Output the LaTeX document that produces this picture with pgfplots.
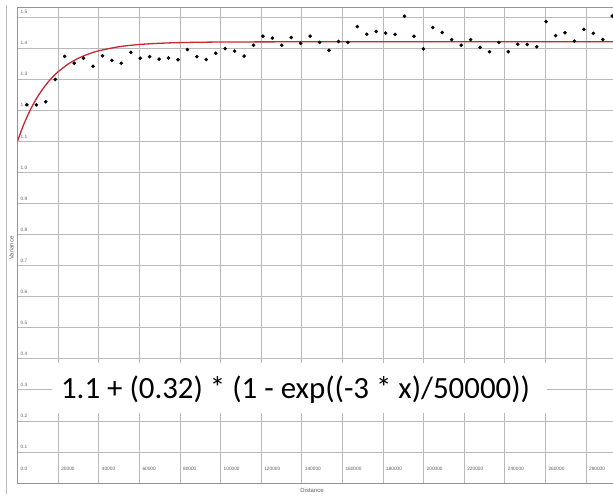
\documentclass[border=0pt]{standalone}
\usepackage{pgfplots}
\pgfplotsset{compat=1.18}
\usepackage{fontspec}
\setmainfont{Liberation Sans}
\newfontfamily\calibri{Carlito}
\definecolor{gridgray}{RGB}{185,185,185}
\definecolor{labgray}{RGB}{95,95,95}
\definecolor{fitred}{RGB}{200,40,50}

\begin{document}
\begin{tikzpicture}
\path[use as bounding box] (0,0) rectangle (613bp,496bp);
\draw[gridgray, line width=0.8bp] (6.5bp,2bp) -- (6.5bp,491bp);
\begin{axis}[
    at={(17.5bp,13bp)}, anchor=south west,
    scale only axis,
    width=595.5bp, height=476bp,
    xmin=0, xmax=293350,
    ymin=0, ymax=1.532,
    xtick={0,20000,40000,60000,80000,100000,120000,140000,160000,180000,200000,220000,240000,260000,280000},
    xticklabels={0.0,20000,40000,60000,80000,100000,120000,140000,160000,180000,200000,220000,240000,260000,280000},
    ytick={0.1,0.2,0.3,0.4,0.5,0.6,0.7,0.8,0.9,1.0,1.1,1.2,1.3,1.4,1.5},
    yticklabels={0.1,0.2,0.3,0.4,0.5,0.6,0.7,0.8,0.9,1.0,1.1,1.2,1.3,1.4,1.5},
    scaled x ticks=false,
    grid=major,
    major grid style={gridgray, line width=0.7bp},
    axis line style={gridgray!80!black, line width=0.8bp},
    major tick length=0pt,
    tick label style={font=\fontsize{4.8}{5}\selectfont, text=labgray, inner sep=0pt},
    xticklabel style={anchor=south west, xshift=3bp, yshift=12bp},
    yticklabel style={anchor=south west, xshift=3bp, yshift=3bp},
]

% fitted curve
\addplot[fitred, line width=1.3bp, smooth] coordinates {
    (0,1.1) (2500,1.1446) (5000,1.1829) (7500,1.2160) (10000,1.2444)
    (12500,1.2688) (15000,1.2899) (17500,1.3080) (20000,1.3236)
    (25000,1.3486) (30000,1.3671) (35000,1.3808) (40000,1.3910)
    (50000,1.4041) (60000,1.4113) (70000,1.4152) (80000,1.4174)
    (100000,1.4192) (150000,1.4200) (293350,1.4200)
};

% empirical variance
\addplot[only marks, mark=*, mark size=1.6bp, black] coordinates {
    (4650,1.217) (9300,1.217) (13950,1.227) (18600,1.299) (23250,1.373)
    (27900,1.351) (32550,1.367) (37200,1.341) (41850,1.375) (46500,1.360)
    (51150,1.351) (55800,1.386) (60450,1.367) (65100,1.372) (69750,1.364)
    (74400,1.368) (79050,1.362) (83700,1.395) (88350,1.372) (93000,1.363)
    (97650,1.383) (102300,1.398) (106950,1.390) (111600,1.374) (116250,1.409)
    (120900,1.438) (125550,1.432) (130200,1.409) (134850,1.434) (139500,1.415)
    (144150,1.438) (148800,1.418) (153450,1.393) (158100,1.421) (162750,1.418)
    (167400,1.469) (172050,1.444) (176700,1.453) (181350,1.448) (186000,1.444)
    (190650,1.502) (195300,1.438) (199950,1.397) (204600,1.466) (209250,1.450)
    (213900,1.427) (218550,1.409) (223200,1.427) (227850,1.402) (232500,1.388)
    (237150,1.418) (241800,1.388) (246450,1.412) (251100,1.411) (255750,1.404)
    (260400,1.485) (265050,1.440) (269700,1.449) (274350,1.422) (279000,1.460)
    (283650,1.447) (288300,1.427) (292950,1.503)
};

\fill[white] (axis cs:17000,0.225) rectangle (axis cs:260800,0.386);
\node[font=\calibri\fontsize{31}{31}\selectfont, text=black] at (axis cs:137000,0.300)
    {1.1 + (0.32) * (1 - exp((-3 * x)/50000))};
\end{axis}
\node[rotate=90, font=\fontsize{6}{7}\selectfont, text=labgray] at (11.5bp,248bp) {Variance};
\node[font=\fontsize{6}{7}\selectfont, text=labgray] at (312bp,6bp) {Distance};
\end{tikzpicture}
\end{document}
